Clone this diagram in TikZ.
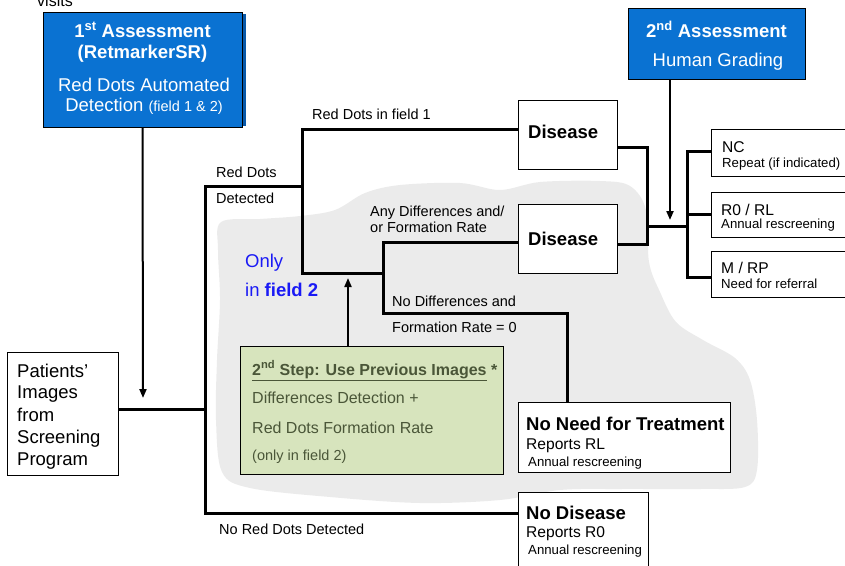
\documentclass[tikz,border=0pt]{standalone}
\usepackage{fontspec}
\setmainfont{Liberation Sans}
\usetikzlibrary{arrows.meta}
\definecolor{boxblue}{HTML}{0A72D2}
\definecolor{shadeblue}{HTML}{0858A8}
\definecolor{greenfill}{HTML}{D7E4BD}
\definecolor{greentext}{HTML}{4A5638}
\definecolor{blobgrey}{HTML}{EBEBEB}
\definecolor{onlyblue}{HTML}{1A1AF5}
\newcommand{\fbig}{\fontsize{18.5}{22}\selectfont}
\newcommand{\fmid}{\fontsize{15.6}{18}\selectfont}
\newcommand{\flab}{\fontsize{14.5}{17}\selectfont}
\newcommand{\fsmall}{\fontsize{13.2}{15}\selectfont}
\newcommand{\fgreen}{\fontsize{16}{19}\selectfont}
\begin{document}
\begin{tikzpicture}[x=1pt,y=-1pt,
  box/.style={draw=black, line width=0.9pt, fill=white, inner sep=0pt, rectangle},
  bluebox/.style={box, fill=boxblue},
  conn/.style={draw=black, line width=3pt, line join=miter},
  arr/.style={draw=black, line width=2pt, -{Triangle[length=9pt,width=7pt]}},
  txt/.style={anchor=base west, inner sep=0pt},
  ctxt/.style={anchor=base, inner sep=0pt}]
\useasboundingbox (0,0) rectangle (845,565);

% grey blob
\fill[blobgrey] plot[smooth cycle, tension=0.55] coordinates {
 (221,222) (260,219) (300,216) (335,210) (365,193) (400,185) (460,183)
 (500,190) (540,182) (600,181) (630,186) (646,210) (649,262) (660,292)
 (676,322) (703,340) (735,358) (750,380) (757,420) (757,470) (745,487)
 (700,489) (620,489) (560,490) (500,500) (420,503) (330,497) (250,488)
 (222,472) (216,420) (217,360) (220,300) (218,250)};

% boxes
\fill[shadeblue] (242,14) rectangle (246,126);
\node[bluebox, minimum width=199pt, minimum height=115pt] (box1) at (142.5,69.5) {};
\node[bluebox, minimum width=177pt, minimum height=71pt] (box2) at (716.5,43.5) {};
\node[box, minimum width=111pt, minimum height=123pt] (pat) at (62.5,413.5) {};
\node[box, minimum width=99pt, minimum height=69pt] (dis1) at (567.5,134.5) {};
\node[box, minimum width=99pt, minimum height=69pt] (dis2) at (567.5,238.5) {};
\node[box, fill=greenfill, minimum width=263pt, minimum height=128pt] (green) at (371.5,410) {};
\node[box, minimum width=212pt, minimum height=70pt] (noneed) at (624,437) {};
\node[box, minimum width=130pt, minimum height=83pt] (nodis) at (583,533.5) {};
\node[box, minimum width=139pt, minimum height=47pt] (nc) at (780.5,152.5) {};
\node[box, minimum width=139pt, minimum height=45pt] (r0) at (780.5,214.5) {};
\node[box, minimum width=139pt, minimum height=46pt] (mrp) at (780.5,274) {};

% junction coordinates
\coordinate (jPat) at (205,409);
\coordinate (jA) at (205,186);
\coordinate (jB) at (302,186);
\coordinate (jNo) at (205,513);
\coordinate (jTop) at (302,129);
\coordinate (jBot) at (302,273);
\coordinate (jS1) at (383,273);
\coordinate (jS2) at (383,242);
\coordinate (jS3) at (383,313);
\coordinate (jS4) at (567,313);
\coordinate (jR1) at (647,147);
\coordinate (jR2) at (647,244);
\coordinate (jR3) at (647,226);
\coordinate (jG) at (687,226);
\coordinate (jG1) at (687,151);
\coordinate (jG2) at (687,214);
\coordinate (jG3) at (687,277);
\coordinate (tip1) at (143,398);
\coordinate (tip2) at (670,220);
\coordinate (tipG) at (348,278);

% connectors
\draw[conn] (pat.east |- jPat) -- (jPat);
\draw[conn] (jB) -- (jA) -- (jNo) -- (nodis.west |- jNo);
\draw[conn] (dis1.west |- jTop) -- (jTop) -- (jBot) -- (jS1) -- (jS2) -- (dis2.west |- jS2);
\draw[conn] (jS1) -- (jS3) -- (jS4) -- (noneed.north -| jS4);
\draw[conn] (dis1.east |- jR1) -- (jR1) -- (jR2) -- (dis2.east |- jR2);
\draw[conn] (jR3) -- (jG);
\draw[conn] (nc.west |- jG1) -- (jG1) -- (jG3) -- (mrp.west |- jG3);
\draw[conn] (jG2) -- (r0.west |- jG2);
\draw[arr] (box1.south) -- (tip1);
\draw[arr] (box2.south -| tip2) -- (tip2);
\draw[arr] (green.north -| tipG) -- (tipG);

% texts in blue boxes
\node[ctxt, text=white, font=\fbig\bfseries] (t1a) at (142.5,37) {1\textsuperscript{st} Assessment};
\node[ctxt, text=white, font=\fbig\bfseries] (t1b) at (142.5,58) {(RetmarkerSR)};
\node[ctxt, text=white, font=\fbig] (t1c) at (144,91) {Red Dots Automated};
\node[ctxt, text=white, font=\fbig] (t1d) at (144,111) {Detection {\flab(field 1 \& 2)}};
\node[ctxt, text=white, font=\fbig\bfseries] (t2a) at (716.5,37) {2\textsuperscript{nd} Assessment};
\node[ctxt, text=white, font=\fbig] (t2b) at (718,66) {Human Grading};
\node[txt, font=\fontsize{16}{18}\selectfont] (tvis) at (37,6) {visits};

% patients
\node[txt, font=\fbig] (p1) at (17,377) {Patients’};
\node[txt, font=\fbig] (p2) at (17,398) {Images};
\node[txt, font=\fbig] (p3) at (17,421) {from};
\node[txt, font=\fbig] (p4) at (17,443) {Screening};
\node[txt, font=\fbig] (p5) at (17,465) {Program};

% disease
\node[txt, font=\fbig\bfseries] (d1) at (528,138) {Disease};
\node[txt, font=\fbig\bfseries] (d2) at (528,245) {Disease};

% labels
\node[txt, font=\flab] (l1) at (312,119) {Red Dots in field 1};
\node[txt, font=\flab] (l2) at (216,177) {Red Dots};
\node[txt, font=\flab] (l3) at (216,203) {Detected};
\node[txt, font=\flab] (l4) at (370,216) {Any Differences and/};
\node[txt, font=\flab] (l5) at (370,232) {or Formation Rate};
\node[txt, font=\flab] (l6) at (392,306) {No Differences and};
\node[txt, font=\flab] (l7) at (392,332) {Formation Rate = 0};
\node[txt, font=\flab] (l8) at (219,534) {No Red Dots Detected};
\node[txt, font=\fbig, text=onlyblue] (o1) at (245,267) {Only};
\node[txt, font=\fbig, text=onlyblue] (o2) at (245,296) {in \textbf{field 2}};

% green box text
\node[txt, font=\fgreen\bfseries, text=greentext] (g1) at (252,375) {\underline{2\textsuperscript{nd} Step: Use Previous Images} *};
\node[txt, font=\fgreen, text=greentext] (g2) at (252,403) {Differences Detection +};
\node[txt, font=\fgreen, text=greentext] (g3) at (252,433) {Red Dots Formation Rate};
\node[txt, font=\flab, text=greentext] (g4) at (252,460) {(only in field 2)};

% outcome boxes
\node[txt, font=\fbig\bfseries] (n1) at (526,430) {No Need for Treatment};
\node[txt, font=\fmid] (n2) at (526,449) {Reports RL};
\node[txt, font=\fsmall] (n3) at (528,466) {Annual rescreening};
\node[txt, font=\fbig\bfseries] (m1) at (526,519) {No Disease};
\node[txt, font=\fmid] (m2) at (526,537) {Reports R0};
\node[txt, font=\fsmall] (m3) at (528,554) {Annual rescreening};

\node[txt, font=\fmid] (c1) at (722,152) {NC};
\node[txt, font=\fsmall] (c2) at (722,167) {Repeat (if indicated)};
\node[txt, font=\fmid] (c3) at (721,215) {R0 / RL};
\node[txt, font=\fsmall] (c4) at (721,228) {Annual rescreening};
\node[txt, font=\fmid] (c5) at (721,273) {M / RP};
\node[txt, font=\fsmall] (c6) at (721,288) {Need for referral};
\end{tikzpicture}
\end{document}
